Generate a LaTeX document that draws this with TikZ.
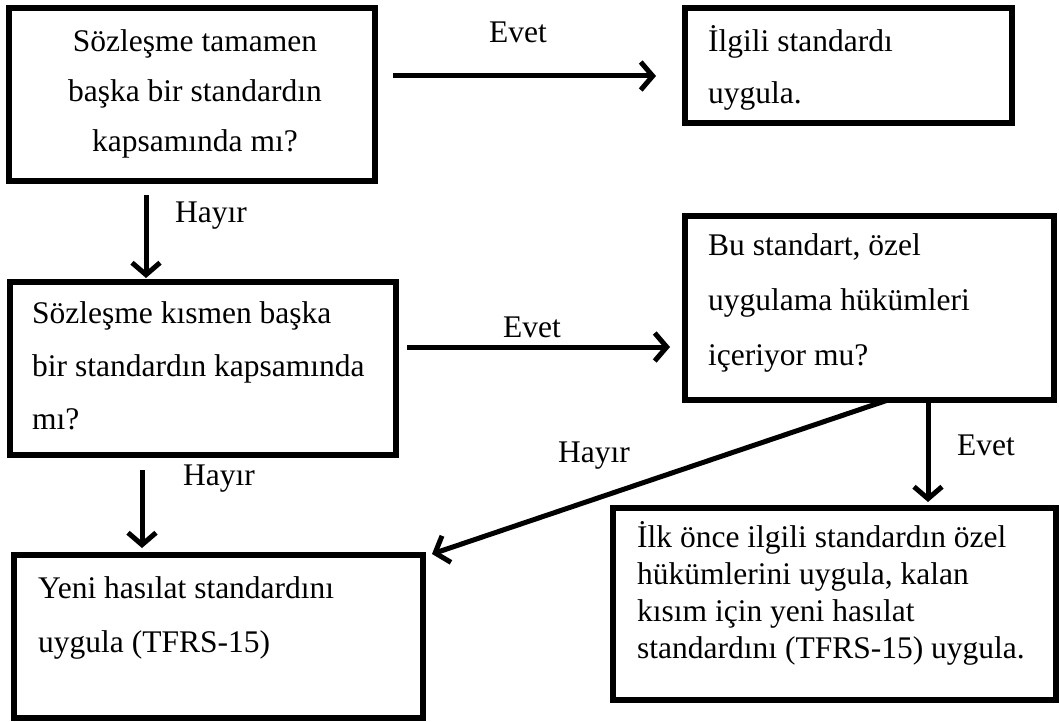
\documentclass[tikz,border=0pt]{standalone}
\usepackage{fontspec}
\setmainfont{Liberation Serif}
\usetikzlibrary{arrows.meta,calc}
\begin{document}
\begin{tikzpicture}[x=1pt,y=-1pt,
  box/.style={draw, line width=6pt, rectangle, inner sep=0pt, outer sep=0pt, anchor=north west},
  txt/.style={inner sep=0pt, align=left, anchor=base west, font=\fontsize{31.5}{#1}\selectfont},
  txt/.default=52,
  lbl/.style={inner sep=0pt, anchor=base west, font=\fontsize{31.5}{38}\selectfont},
  arr/.style={line width=5pt, -{Straight Barb[length=12pt,width=28pt]}}
]
\useasboundingbox (0,0) rectangle (1059,722);
% boxes
\node[box, minimum width=366pt, minimum height=173pt] (b1) at (9,8) {};
\node[box, minimum width=327pt, minimum height=115pt] (b2) at (685,8) {};
\node[box, minimum width=386pt, minimum height=173pt] (b3) at (10,282) {};
\node[box, minimum width=369pt, minimum height=184pt] (b4) at (685,216) {};
\node[box, minimum width=409pt, minimum height=163pt] (b5) at (14,555) {};
\node[box, minimum width=443pt, minimum height=192pt] (b6) at (613,508) {};
% texts (anchored at the baseline of their last line)
\node[txt=50, align=center, anchor=base] (t1) at (195,152) {Sözleşme tamamen\\başka bir standardın\\kapsamında mı?};
\node[txt=52] (t2) at (708,104) {İlgili standardı\\uygula.};
\node[txt=53] (t3) at (32,429) {Sözleşme kısmen başka\\bir standardın kapsamında\\mı?};
\node[txt=55] (t4) at (708,365) {Bu standart, özel\\uygulama hükümleri\\içeriyor mu?};
\node[txt=54] (t5) at (38,652) {Yeni hasılat standardını\\uygula (TFRS-15)};
\node[txt=36.7] (t6) at (637,658) {İlk önce ilgili standardın özel\\hükümlerini uygula, kalan\\kısım için yeni hasılat\\standardını (TFRS-15) uygula.};
% connectors
\draw[arr] ($(b1.north east)+(18,68)$) -- ($(b2.north west)+(-29,68)$);
\draw[arr] ($(b1.south west)+(137,14)$) -- ($(b3.north west)+(136,-4)$);
\draw[arr] ($(b3.north east)+(11,65)$) -- ($(b4.north west)+(-15,131)$);
\draw[arr] ($(b4.south west)+(203,0)$) -- ($(b5.north east)+(9,-1)$);
\draw[arr] ($(b4.south west)+(243,0)$) -- ($(b6.north west)+(315,-6)$);
\draw[arr] ($(b3.south west)+(132,15)$) -- ($(b5.north west)+(128,-7)$);
% labels
\node[lbl, anchor=base] (l1) at (518,43) {Evet};
\node[lbl] (l2) at (175,222) {Hayır};
\node[lbl, anchor=base] (l3) at (532,337) {Evet};
\node[lbl] (l4) at (558,462) {Hayır};
\node[lbl] (l5) at (957,455) {Evet};
\node[lbl] (l6) at (183,485) {Hayır};
\end{tikzpicture}
\end{document}
